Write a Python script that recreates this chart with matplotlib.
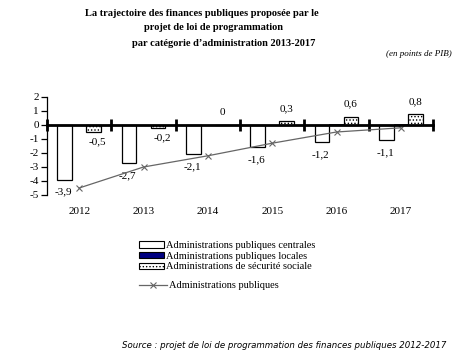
import numpy as np
import matplotlib.pyplot as plt
from matplotlib.patches import Patch
from matplotlib.lines import Line2D

# donnees (en points de PIB)
annees = ['2012', '2013', '2014', '2015', '2016', '2017']
centrales = [-3.9, -2.7, -2.1, -1.6, -1.2, -1.1]
locales = [0.0, 0.0, 0.0, 0.0, 0.1, 0.1]
securite = [-0.5, -0.2, 0.0, 0.3, 0.6, 0.8]
total = [-4.5, -3.0, -2.2, -1.3, -0.5, -0.2]

def fmt(v):
    if v == 0:
        return '0'
    return ('%.1f' % v).replace('.', ',')

plt.rcParams['font.family'] = ['Liberation Serif', 'DejaVu Serif']
plt.rcParams['hatch.linewidth'] = 0.6
plt.rcParams['axes.unicode_minus'] = False

fig = plt.figure(figsize=(4.71, 3.55), dpi=100)
ax = fig.add_axes([47/471, 1-195/355, (433-47)/471, 98/355])

x = np.arange(len(annees))
w = 0.225
ax.bar(x - w, centrales, w, color='white', edgecolor='black', lw=0.9)
ax.bar(x, locales, w, color='#000080', edgecolor='black', lw=0.5)
ax.bar(x + w, securite, w, color='white', edgecolor='black', lw=0.9, hatch='.....')
ax.plot(x, total, color='#666666', lw=0.9, marker='x', ms=4, mew=0.8, zorder=5)

# etiquettes
for i in range(len(annees)):
    ax.annotate(fmt(centrales[i]), (x[i] - w, centrales[i]), xytext=(-1, -9),
                textcoords='offset points', ha='center', va='center', fontsize=8)
    if securite[i] < 0:
        ax.annotate(fmt(securite[i]), (x[i] + w, securite[i]), xytext=(3, -7),
                    textcoords='offset points', ha='center', va='center', fontsize=8)
    else:
        ax.annotate(fmt(securite[i]), (x[i] + w, securite[i]), xytext=(0, 9),
                    textcoords='offset points', ha='center', va='center', fontsize=8)
    ax.text(x[i], -6.2, annees[i], ha='center', va='center', fontsize=8, clip_on=False)

ax.set_xlim(-0.5, 5.5)
ax.set_ylim(-5, 2)
ax.set_yticks(range(-5, 3))
ax.set_xticks(np.arange(-0.5, 6, 1))
ax.set_xticklabels([])
for s in ['top', 'right']:
    ax.spines[s].set_visible(False)
ax.spines['bottom'].set_position(('data', 0))
ax.spines['bottom'].set_linewidth(2)
ax.spines['bottom'].set_zorder(6)
ax.spines['left'].set_linewidth(0.9)
ax.tick_params(axis='x', direction='inout', length=8, width=2)
ax.tick_params(axis='y', direction='out', length=4, width=0.9, labelsize=8, pad=2)

# titre
fig.text(202/471, 1-13/355, 'La trajectoire des finances publiques proposée par le',
         ha='center', va='center', fontsize=7.5, fontweight='bold')
fig.text(214/471, 1-28/355, 'projet de loi de programmation',
         ha='center', va='center', fontsize=7.5, fontweight='bold')
fig.text(224/471, 1-43/355, 'par catégorie d\u2019administration 2013-2017',
         ha='center', va='center', fontsize=7.5, fontweight='bold')
fig.text(452/471, 1-54/355, '(en points de PIB)', ha='right', va='center',
         fontsize=6.5, style='italic')

h1 = [Patch(facecolor='white', edgecolor='black', lw=0.8),
      Patch(facecolor='#000080', edgecolor='black', lw=0.8),
      Patch(facecolor='white', edgecolor='black', lw=0.8, hatch='.....')]
lab1 = ['Administrations publiques centrales', 'Administrations publiques locales',
        'Administrations de sécurité sociale']
fig.legend(h1, lab1, loc='upper left', bbox_to_anchor=(134/471, 1-236/355),
           frameon=False, fontsize=7.5, handlelength=2.4, handleheight=0.55,
           handletextpad=0.2, labelspacing=0.15, borderpad=0)
h2 = [Line2D([], [], color='#666666', lw=0.9, marker='x', ms=4, mew=0.8)]
fig.legend(h2, ['Administrations publiques'], loc='upper left',
           bbox_to_anchor=(134/471, 1-276/355), frameon=False, fontsize=7.5,
           handlelength=2.7, handletextpad=0.2, borderpad=0)

fig.text(446/471, 1-345/355,
         'Source : projet de loi de programmation des finances publiques 2012-2017',
         ha='right', va='center', fontsize=6.2, style='italic', family='DejaVu Sans')

plt.savefig('out.png', dpi=100)
